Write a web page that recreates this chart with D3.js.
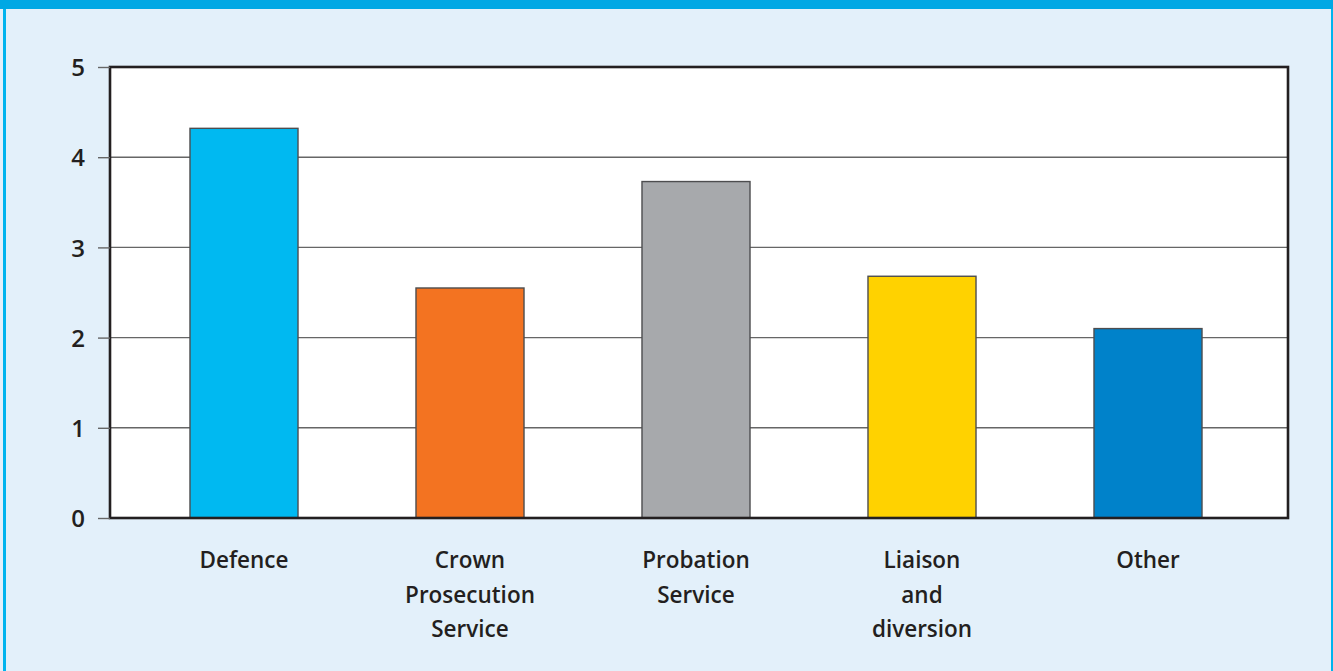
<!DOCTYPE html>
<html>
<head>
<meta charset="utf-8">
<script src="https://cdn.jsdelivr.net/npm/d3@7/dist/d3.min.js"></script>
<style>
  html, body { margin: 0; padding: 0; background: #e3f0fa; }
  svg { display: block; }
  text { font-family: "Open Sans", "Noto Sans", sans-serif; font-weight: 600; fill: #231f20; }
</style>
</head>
<body>
<svg id="chart" width="1333" height="671"></svg>
<script>
// Agencies along the x axis (each label split into its display lines)
const categories = ["Defence", "Crown Prosecution Service", "Probation Service", "Liaison and diversion", "Other"];
const labelLines = [["Defence"], ["Crown", "Prosecution", "Service"], ["Probation", "Service"], ["Liaison", "and", "diversion"], ["Other"]];
const values = [4.32, 2.55, 3.73, 2.68, 2.10];
const barColors = ["#00b9f1", "#f37321", "#a7a9ac", "#ffd200", "#0082ca"];
const yTicks = [0, 1, 2, 3, 4, 5];

const W = 1333, H = 671;
const plot = { left: 110, right: 1288, top: 67, bottom: 518 };

const svg = d3.select("#chart");

// panel background and blue frame
svg.append("rect").attr("x", 0).attr("y", 0).attr("width", W).attr("height", H).attr("fill", "#e3f0fa");
svg.append("rect").attr("x", 0).attr("y", 0).attr("width", W).attr("height", 9).attr("fill", "#00a8e4");
svg.append("rect").attr("x", 3).attr("y", 9).attr("width", 3).attr("height", H - 9).attr("fill", "#00b4ee");
svg.append("rect").attr("x", 1331).attr("y", 9).attr("width", 2).attr("height", H - 9).attr("fill", "#00b4ee");

const y = d3.scaleLinear().domain([0, 5]).range([plot.bottom, plot.top]);
const x = d3.scaleBand().domain(categories).range([131, 1261]).paddingInner(0.522).paddingOuter(0.261);

// white plotting area
svg.append("rect")
  .attr("x", plot.left).attr("y", plot.top)
  .attr("width", plot.right - plot.left).attr("height", plot.bottom - plot.top)
  .attr("fill", "#ffffff");

// horizontal gridlines
svg.append("g").selectAll("line")
  .data(yTicks.filter(d => d > 0 && d < 5))
  .join("line")
  .attr("x1", plot.left).attr("x2", plot.right)
  .attr("y1", d => y(d)).attr("y2", d => y(d))
  .attr("stroke", "#666666").attr("stroke-width", 1.4);

// bars
svg.append("g").selectAll("rect")
  .data(categories)
  .join("rect")
  .attr("x", d => x(d))
  .attr("y", (d, i) => y(values[i]))
  .attr("width", x.bandwidth())
  .attr("height", (d, i) => y(0) - y(values[i]))
  .attr("fill", (d, i) => barColors[i])
  .attr("stroke", "#4d4d4f").attr("stroke-width", 1.4);

// plot frame
svg.append("rect")
  .attr("x", plot.left).attr("y", plot.top)
  .attr("width", plot.right - plot.left).attr("height", plot.bottom - plot.top)
  .attr("fill", "none").attr("stroke", "#231f20").attr("stroke-width", 2.6);

// y axis: outward ticks and labels
const yAxis = d3.axisLeft(y).tickValues(yTicks).tickSize(12).tickPadding(13).tickFormat(d3.format("d"));
const gy = svg.append("g").attr("transform", `translate(${plot.left},0)`).call(yAxis);
gy.select(".domain").remove();
gy.selectAll(".tick line").attr("stroke", "#666666").attr("stroke-width", 1.4);
gy.selectAll(".tick text")
  .attr("font-size", 24).attr("font-weight", 700)
  .attr("font-family", "'Open Sans', sans-serif")
  .attr("fill", "#231f20")
  .attr("dy", "0.36em");

// category labels, one tspan per line
const labels = svg.append("g").selectAll("text")
  .data(categories)
  .join("text")
  .attr("text-anchor", "middle")
  .attr("font-size", 22.5)
  .attr("x", d => x(d) + x.bandwidth() / 2)
  .attr("y", 568);
labels.each(function(d, i) {
  const t = d3.select(this);
  labelLines[i].forEach((line, k) => {
    t.append("tspan")
      .attr("x", x(d) + x.bandwidth() / 2)
      .attr("dy", k === 0 ? 0 : 34.5)
      .text(line);
  });
});
</script>
</body>
</html>
